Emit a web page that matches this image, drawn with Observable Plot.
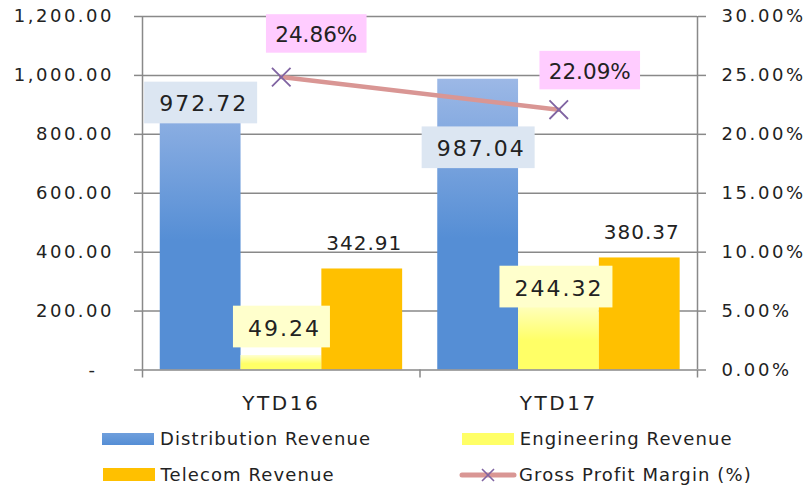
<!DOCTYPE html>
<html>
<head>
<meta charset="utf-8">
<script src="https://cdn.jsdelivr.net/npm/d3@7"></script>
<script src="https://cdn.jsdelivr.net/npm/@observablehq/plot@0.6"></script>
<style>
  body { margin: 0; background: #fff; font-family: "DejaVu Sans", Verdana, sans-serif; }
  #wrap { position: relative; width: 807px; height: 485px; overflow: hidden; }
  #chart svg { display: block; }
  .item { position: absolute; height: 20px; display: flex; align-items: center; font-size: 18px; line-height: 20px; letter-spacing: 1.1px; color: #222; white-space: nowrap; }
  .sw { width: 52px; height: 12.5px; margin-right: 6px; }
</style>
</head>
<body>
<div id="wrap">
  <div id="chart"></div>
  <div id="legend"></div>
</div>
<script>
// ---- data ----
const categories = ["YTD16", "YTD17"];
const distribution = [972.72, 987.04];
const engineering = [49.24, 244.32];
const telecom = [342.91, 380.37];
const grossMargin = [24.86, 22.09]; // percent, right axis
const leftTicks = [0, 200, 400, 600, 800, 1000, 1200];
const rightTicks = [0, 5, 10, 15, 20, 25, 30];
const seriesNames = ["Distribution Revenue", "Engineering Revenue", "Telecom Revenue", "Gross Profit Margin (%)"];

// ---- layout / styling ----
const pctToY = 1200 / 30;           // right axis 30% aligns with 1200
const groupPad = 17.75 / 277.5;     // band fraction before first bar
const barW = 80.8 / 277.5;          // band fraction per bar
const seriesValues = [distribution, engineering, telecom];
const fills = ["url(#gDist)", "url(#gEng)", "#ffc000"];

const bars = seriesValues.map((vals, j) => vals.map((v, i) => ({
  cat: categories[i], value: v,
  x1: i + groupPad + j * barW, x2: i + groupPad + (j + 1) * barW,
  xc: i + groupPad + (j + 0.5) * barW
})));
const margin = grossMargin.map((p, i) => ({cat: categories[i], x: i + 0.5, y: p * pctToY, p}));

// callout offsets (pixels) of label boxes from their data point
const nudges = {
  dist: [{dx: 0, dy: 19}, {dx: 0, dy: 68}],
  eng: [{dx: 0, dy: -29}, {dx: -3, dy: -11.5}],
  gpm: [{dx: 35, dy: -44}, {dx: 31, dy: -40}]
};

const axisColor = "#898989";
const textColor = "#222";
const fmt2 = d3.format(",.2f");
const pctFmt = p => p.toFixed(2) + "%";
const leftFmt = d => d === 0 ? "-\u00a0\u00a0" : fmt2(d);

const labelMarks = [];
bars[0].forEach((d, i) => labelMarks.push(Plot.text([d], {
  x: "xc", y: "value", text: d => fmt2(d.value), dx: nudges.dist[i].dx + 3, dy: nudges.dist[i].dy + 2,
  fontSize: 22, fill: textColor
})));
bars[1].forEach((d, i) => labelMarks.push(Plot.text([d], {
  x: "xc", y: "value", text: d => fmt2(d.value), dx: nudges.eng[i].dx + 3, dy: nudges.eng[i].dy + 2,
  fontSize: 22, fill: textColor
})));
margin.forEach((d, i) => labelMarks.push(Plot.text([d], {
  x: "x", y: "y", text: d => pctFmt(d.p), dx: nudges.gpm[i].dx, dy: nudges.gpm[i].dy + 2.5,
  fontSize: 21.5, fill: textColor
})));

const svg = Plot.plot({
  width: 807,
  height: 420,
  marginTop: 16,
  marginBottom: 50.5,
  marginLeft: 142,
  marginRight: 110,
  style: {fontFamily: "DejaVu Sans, Verdana, sans-serif", background: "#fff", overflow: "visible"},
  x: {type: "linear", domain: [0, 2]},
  y: {domain: [0, 1200]},
  marks: [
    Plot.gridY(leftTicks.slice(1), {stroke: axisColor, strokeOpacity: 1, strokeWidth: 1.5}),
    ...bars.map((rows, j) => Plot.rectY(rows, {x1: "x1", x2: "x2", y1: 0, y2: "value", fill: fills[j]})),
    Plot.ruleY([0], {stroke: axisColor, strokeWidth: 1.5}),
    Plot.ruleX([0, 2], {stroke: axisColor, strokeWidth: 1.5}),
    Plot.axisY(leftTicks, {anchor: "left", tickSize: 8, tickPadding: 20.5, stroke: axisColor, strokeWidth: 1.5,
      fill: textColor, fontSize: 18, label: null, tickFormat: leftFmt}),
    Plot.axisY(leftTicks, {anchor: "right", tickSize: 8, tickPadding: 16, stroke: axisColor, strokeWidth: 1.5,
      fill: textColor, fontSize: 18, label: null, tickFormat: d => pctFmt(d / pctToY)}),
    Plot.axisX([0, 1, 2], {anchor: "bottom", tickSize: 8, stroke: axisColor, strokeWidth: 1.5, tickFormat: () => "", label: null}),
    Plot.axisX([0.5, 1.5], {anchor: "bottom", tickSize: 0, tickPadding: 25.6, fill: textColor, fontSize: 20, label: null,
      tickFormat: d => categories[Math.floor(d)]}),
    Plot.line(margin, {x: "x", y: "y", stroke: "#d99694", strokeWidth: 4.5}),
    Plot.dot(margin, {x: "x", y: "y", symbol: "times", r: 8.5, stroke: "#8064a2", strokeWidth: 1.8}),
    Plot.text(bars[2], {x: "xc", y: "value", text: d => fmt2(d.value), dx: 2, dy: -19, lineAnchor: "bottom",
      fontSize: 20, fill: textColor}),
    ...labelMarks
  ]
});

// gradients for the bars
const defs = d3.select(svg).insert("defs", ":first-child");
const g1 = defs.append("linearGradient").attr("id", "gDist").attr("x1", 0).attr("y1", 0).attr("x2", 0).attr("y2", 1);
g1.append("stop").attr("offset", "0").attr("stop-color", "#9cb8e6");
g1.append("stop").attr("offset", "0.55").attr("stop-color", "#558ed5");
g1.append("stop").attr("offset", "1").attr("stop-color", "#558ed5");
const g2 = defs.append("linearGradient").attr("id", "gEng").attr("x1", 0).attr("y1", 0).attr("x2", 0).attr("y2", 1);
g2.append("stop").attr("offset", "0").attr("stop-color", "#ffffd2");
g2.append("stop").attr("offset", "0.6").attr("stop-color", "#ffff66");
g2.append("stop").attr("offset", "1").attr("stop-color", "#ffff66");

document.getElementById("chart").appendChild(svg);

// letter spacing per text group, and background boxes behind callout labels
const groups = [
  {set: new Set(leftTicks.map(leftFmt)), ls: 2.5, axis: true},
  {set: new Set(rightTicks.map(pctFmt)), ls: 2.6, axis: true},
  {set: new Set(categories), ls: 2.5, axis: true},
  {set: new Set(distribution.map(fmt2)), ls: 2, box: ["#dce6f2", 12, 41.7, 3]},
  {set: new Set(engineering.map(fmt2)), ls: 2, box: ["#ffffcc", 12, 41.7, 3]},
  {set: new Set(telecom.map(fmt2)), ls: 1},
  {set: new Set(grossMargin.map(pctFmt)), ls: 0, box: ["#ffccff", 9.3, 38.5, 0]}
];
const allText = d3.select(svg).selectAll("text").nodes();
groups.forEach(g => {
  g.nodes = allText.filter(n => g.set.has(n.textContent.trim()) || g.set.has(n.textContent));
  if (g.axis) {
    // apply to the whole tick-label group so every sibling label inherits it
    const parents = new Set(g.nodes.map(n => n.parentNode));
    parents.forEach(p => {
      p.setAttribute("letter-spacing", g.ls);
      p.querySelectorAll("text").forEach(t => t.setAttribute("letter-spacing", g.ls));
    });
  } else {
    g.nodes.forEach(n => n.setAttribute("letter-spacing", g.ls));
  }
});
groups.filter(g => g.box).forEach(g => {
  const [fill, padX, h, shiftX] = g.box;
  g.nodes.forEach(node => {
    const b = node.getBBox();
    const cx = b.x + b.width / 2 - shiftX, cy = b.y + b.height / 2 - 1.5;
    const w = b.width + 2 * padX;
    d3.select(node.parentNode).insert("rect", () => node)
      .attr("transform", node.getAttribute("transform"))
      .attr("x", cx - w / 2).attr("y", cy - h / 2)
      .attr("width", w).attr("height", h).attr("fill", fill);
  });
});

// legend
const legend = document.getElementById("legend");
const items = [
  {name: seriesNames[0], left: 102, top: 429, sw: "linear-gradient(#6f9fdc,#558ed5)"},
  {name: seriesNames[1], left: 461.7, top: 429, sw: "#ffff66"},
  {name: seriesNames[2], left: 102.5, top: 464.5, sw: "#ffc000"},
  {name: seriesNames[3], left: 458, top: 464.5, line: true}
];
items.forEach(it => {
  const div = document.createElement("div");
  div.className = "item";
  div.style.left = it.left + "px";
  div.style.top = it.top + "px";
  if (it.line) {
    div.innerHTML = `<svg width="60" height="20" style="margin-right:1px">
      <line x1="4" y1="10" x2="56" y2="10" stroke="#d99694" stroke-width="5" stroke-linecap="round"/>
      <path d="M24,4L36,16M36,4L24,16" stroke="#8064a2" stroke-width="1.6"/></svg>`;
  } else {
    const s = document.createElement("div");
    s.className = "sw";
    s.style.background = it.sw;
    div.appendChild(s);
  }
  const t = document.createElement("span");
  t.textContent = it.name;
  div.appendChild(t);
  legend.appendChild(div);
});
</script>
</body>
</html>
